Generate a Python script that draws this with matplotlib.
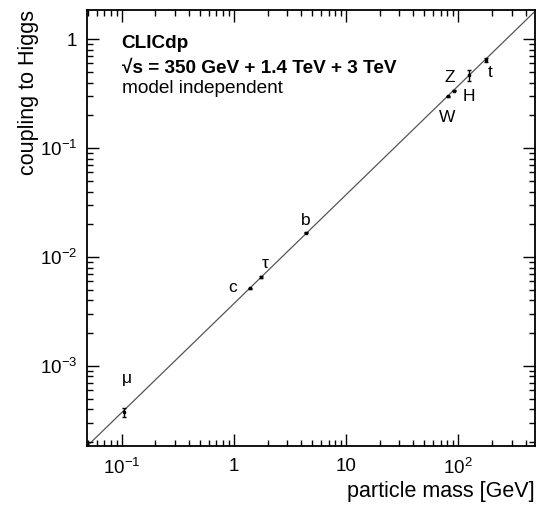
import matplotlib
matplotlib.use("Agg")
import matplotlib.pyplot as plt
from matplotlib.ticker import NullFormatter, LogLocator
import numpy as np

plt.rcParams['font.family'] = ['Liberation Sans', 'DejaVu Sans']
plt.rcParams['mathtext.fontset'] = 'custom'
plt.rcParams['mathtext.rm'] = 'Liberation Sans'
plt.rcParams['mathtext.it'] = 'Liberation Sans:italic'
plt.rcParams['mathtext.bf'] = 'Liberation Sans:bold'

# values
particles = ['μ', 'c', 'τ', 'b', 'W', 'Z', 'H', 't']
mass = [0.1057, 1.38, 1.76, 4.4, 81.5, 92.0, 125.0, 176.0]
coupling = [3.75e-4, 5.15e-3, 6.5e-3, 0.0167, 0.300, 0.336, 0.468, 0.651]
rel_err = [0.09, 0.02, 0.02, 0.01, 0.01, 0.01, 0.12, 0.04]

line_mass = [0.049, 486.0]
line_coupling = [1.83e-4, 1.81]

xticks = [0.1, 1, 10, 100]
xticklabels = [r'$\mathregular{10^{-1}}$', '1', '10', r'$\mathregular{10^{2}}$']
yticks = [1e-3, 1e-2, 1e-1, 1]
yticklabels = [r'$\mathregular{10^{-3}}$', r'$\mathregular{10^{-2}}$', r'$\mathregular{10^{-1}}$', '1']

fig = plt.figure(figsize=(5.39, 5.05), dpi=100)
ax = fig.add_axes([0.1614, 0.1174, 0.8312, 0.8628])

ax.plot(line_mass, line_coupling, color='#555555', lw=0.9, zorder=1)

mass = np.array(mass)
coupling = np.array(coupling)
yerr = coupling * np.array(rel_err)
ax.errorbar(mass, coupling, yerr=yerr, fmt='s', ms=1.5, color='black',
            ecolor='black', elinewidth=1.0, capsize=1.4, capthick=1.0, zorder=3)

# label offsets (points) relative to each marker
label_offsets = {
    'μ': (2, 24), 'c': (-12, 1), 'τ': (3, 10), 'b': (0, 9),
    'W': (-1, -15), 'Z': (-3, 10), 'H': (0, -15.5), 't': (3, -9),
}
for name, m, c in zip(particles, mass, coupling):
    dx, dy = label_offsets[name]
    ax.annotate(name, (m, c), xytext=(dx, dy), textcoords='offset points',
                ha='center', va='center', fontsize=12.5)

ax.set_xscale('log')
ax.set_yscale('log')
ax.set_xlim(0.049, 486)
ax.set_ylim(1.85e-4, 1.86)

ax.set_xticks(xticks, labels=xticklabels)
ax.set_yticks(yticks, labels=yticklabels)
ax.xaxis.set_minor_locator(LogLocator(base=10, subs=np.arange(2, 10)))
ax.yaxis.set_minor_locator(LogLocator(base=10, subs=np.arange(2, 10)))
ax.xaxis.set_minor_formatter(NullFormatter())
ax.yaxis.set_minor_formatter(NullFormatter())

ax.tick_params(which='both', direction='in', top=True, right=True,
               labelsize=13.5, width=1.0)
ax.tick_params(which='major', length=8.5)
ax.tick_params(which='minor', length=4)
ax.tick_params(axis='x', which='major', pad=9)
ax.tick_params(axis='y', which='major', pad=7)

for sp in ax.spines.values():
    sp.set_linewidth(1.3)

ax.set_xlabel('particle mass [GeV]', fontsize=15.5, loc='right')
ax.xaxis.set_label_coords(1.0, -0.08)
ax.set_ylabel('coupling to Higgs', fontsize=15.5, loc='top')
ax.yaxis.set_label_coords(-0.108, 1.0)

ax.text(0.0775, 0.9128, 'CLICdp', transform=ax.transAxes, fontsize=13.7,
        fontweight='bold', va='baseline')
ax.text(0.0775, 0.8554, '√s = 350 GeV + 1.4 TeV + 3 TeV', transform=ax.transAxes,
        fontsize=13.7, fontweight='bold', va='baseline')
ax.text(0.0775, 0.8095, 'model independent', transform=ax.transAxes,
        fontsize=13.7, va='baseline')

fig.savefig('out.png', dpi=100)
